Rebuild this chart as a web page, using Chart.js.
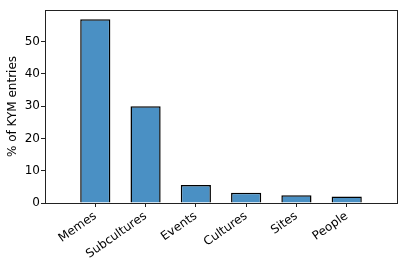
<!DOCTYPE html>
<html><head><meta charset="utf-8">
<script src="https://cdn.jsdelivr.net/npm/chart.js@4"></script>
<style>html,body{margin:0;padding:0;background:#fff}#wrap{width:407px;height:269px}</style>
</head><body><div id="wrap"><canvas id="c" width="407" height="269"></canvas></div>
<script>
const categories = ['Memes','Subcultures','Events','Cultures','Sites','People'];
const values = [56.9, 30.0, 5.6, 3.2, 2.4, 2.0];
const yTicks = [0,10,20,30,40,50];
const yTitle = '% of KYM entries';

const frame = {id:'frame', afterDatasetsDraw(ch){const a=ch.chartArea,c=ch.ctx;c.save();c.strokeStyle='#222';c.lineWidth=1;c.strokeRect(Math.round(a.left)+0.5,Math.round(a.top)+0.5,Math.round(a.right-a.left),Math.round(a.bottom-a.top));c.restore();}};

new Chart(document.getElementById('c'),{
  type:'bar',
  data:{datasets:[{data:values.map((v,i)=>({x:i,y:v})),backgroundColor:'#4a90c4',borderColor:'#000',borderWidth:1.5,barPercentage:0.6,categoryPercentage:1}]},
  options:{
    responsive:false,animation:false,
    layout:{padding:{top:10,right:10,left:0,bottom:0}},
    plugins:{legend:{display:false},tooltip:{enabled:false}},
    scales:{
      x:{type:'linear',min:-1,max:6,offset:false,
        afterBuildTicks(s){s.ticks=categories.map((c,i)=>({value:i}));},
        afterFit(s){s.height=66;},
        grid:{drawOnChartArea:false,drawTicks:true,tickLength:4,tickColor:'#222',offset:false},
        border:{display:false},
        ticks:{autoSkip:false,maxRotation:35,minRotation:35,padding:2,color:'#000',font:{family:'DejaVu Sans',size:12},callback:(v)=>categories[v]??''}},
      y:{min:0,max:59.8,
        afterBuildTicks(s){s.ticks=yTicks.map(v=>({value:v}));},
        afterFit(s){s.width=45;},
        grid:{drawOnChartArea:false,drawTicks:true,tickLength:4,tickColor:'#222'},
        border:{display:false},
        title:{display:true,text:yTitle,color:'#000',font:{family:'DejaVu Sans',size:12},padding:{top:6,bottom:0}},
        ticks:{padding:1,color:'#000',font:{family:'DejaVu Sans',size:12}}}
    }
  },
  plugins:[frame]
});
</script></body></html>
